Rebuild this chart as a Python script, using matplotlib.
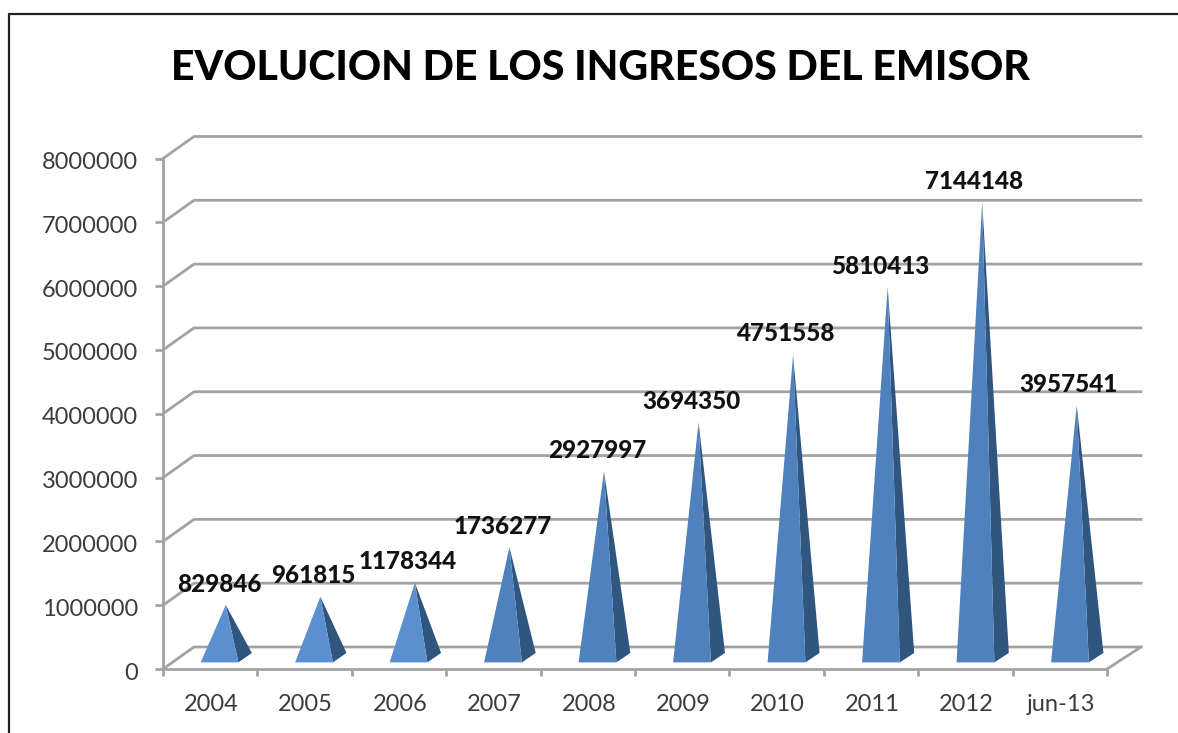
import matplotlib
matplotlib.use("Agg")
import matplotlib.pyplot as plt
from matplotlib.lines import Line2D
from matplotlib.patches import Polygon
from matplotlib.transforms import ScaledTranslation

years = ["2004", "2005", "2006", "2007", "2008", "2009", "2010", "2011", "2012", "jun-13"]
ingresos = [829846, 961815, 1178344, 1736277, 2927997, 3694350, 4751558, 5810413, 7144148, 3957541]
y_ticks = [0, 1000000, 2000000, 3000000, 4000000, 5000000, 6000000, 7000000, 8000000]

W, H = 1178, 733
GREY = "#a3a3a3"
TEXT = "#3c3c3c"
FRONT = "#4f81bd"
FRONT_LIGHT = "#5a8fd0"  # the short pyramids come out lighter
SIDE = "#30557f"

# chart depth in data units (how far the back wall is shifted)
DEPTH_X = 31 / 94.4
DEPTH_Y = 22 / 63.8 * 1000000
STRETCH = 0.0032  # back wall is a little wider than the floor front


def proj(x, y, d):
    return x * (1 + d * STRETCH) + d * DEPTH_X, y + d * DEPTH_Y


plt.rcParams["font.family"] = ["Lato", "DejaVu Sans"]

fig = plt.figure(figsize=(W / 100, H / 100), dpi=100)
ax = fig.add_axes([163 / W, 1 - 669 / H, (1107 - 163) / W, (669 - 158.5) / H])
ax.set_xlim(0, 10)
ax.set_ylim(0, 8000000)
ax.patch.set_visible(False)

for s in ("top", "right"):
    ax.spines[s].set_visible(False)
for s in ("left", "bottom"):
    ax.spines[s].set_color(GREY)
    ax.spines[s].set_linewidth(2)

ax.set_yticks(y_ticks)
ax.set_yticklabels([str(v) for v in y_ticks], fontsize=17, color=TEXT)
ax.set_xticks(range(11))
ax.set_xticklabels([])
ax.set_xticks([i + 0.5 for i in range(10)], labels=years, minor=True, fontsize=17, color=TEXT)
ax.tick_params(axis="y", length=6, width=2, color=GREY, pad=12)
ax.tick_params(axis="x", which="major", length=5, width=2, color=GREY)
ax.tick_params(axis="x", which="minor", length=0, pad=18)

for lab in ax.get_yticklabels():
    lab.set_transform(lab.get_transform() + ScaledTranslation(0, -2 / 100, fig.dpi_scale_trans))
for lab in ax.get_xticklabels(minor=True):
    lab.set_transform(lab.get_transform() + ScaledTranslation(1 / 100, 0, fig.dpi_scale_trans))

# back wall lines and the slanted side wall
for v in y_ticks:
    x0, y0 = proj(0, v, 1)
    x1, y1 = proj(10, v, 1)
    ax.plot([0, x0, x1], [v, y0, y1], color=GREY, lw=2, clip_on=False, zorder=1)
x0, y0 = proj(10, 0, 1)
ax.plot([10, x0], [0, y0], color=GREY, lw=2, clip_on=False, zorder=1)

# pyramids
half = 0.2
for i, val in enumerate(ingresos):
    c = i + 0.5
    fl = proj(c - half, 0, 0.3)
    fr = proj(c + half, 0, 0.3)
    br = proj(c + half, 0, 0.73)
    top = proj(c, val, 0.5)
    front = FRONT_LIGHT if val < 1500000 else FRONT
    ax.add_patch(Polygon([fr, br, top], closed=True, fc=SIDE, ec="none", clip_on=False, zorder=3))
    ax.add_patch(Polygon([fl, fr, top], closed=True, fc=front, ec="none", clip_on=False, zorder=3))
    ax.annotate(str(val), (c, val), xytext=(6.5, 23), textcoords="offset points",
                ha="center", va="center", fontsize=17.5, fontweight=900, color="#111111",
                annotation_clip=False, zorder=5)

fig.text(600 / W, 1 - 68 / H, "EVOLUCION DE LOS INGRESOS DEL EMISOR", ha="center", va="center",
         fontsize=29.5, fontweight=900, color="black")

# outer frame of the pasted chart
fig.add_artist(Line2D([8.5 / W, 8.5 / W, 1], [0, 1 - 14 / H, 1 - 14 / H], color="#222222", lw=1.6))

fig.savefig("out.png", dpi=100)
